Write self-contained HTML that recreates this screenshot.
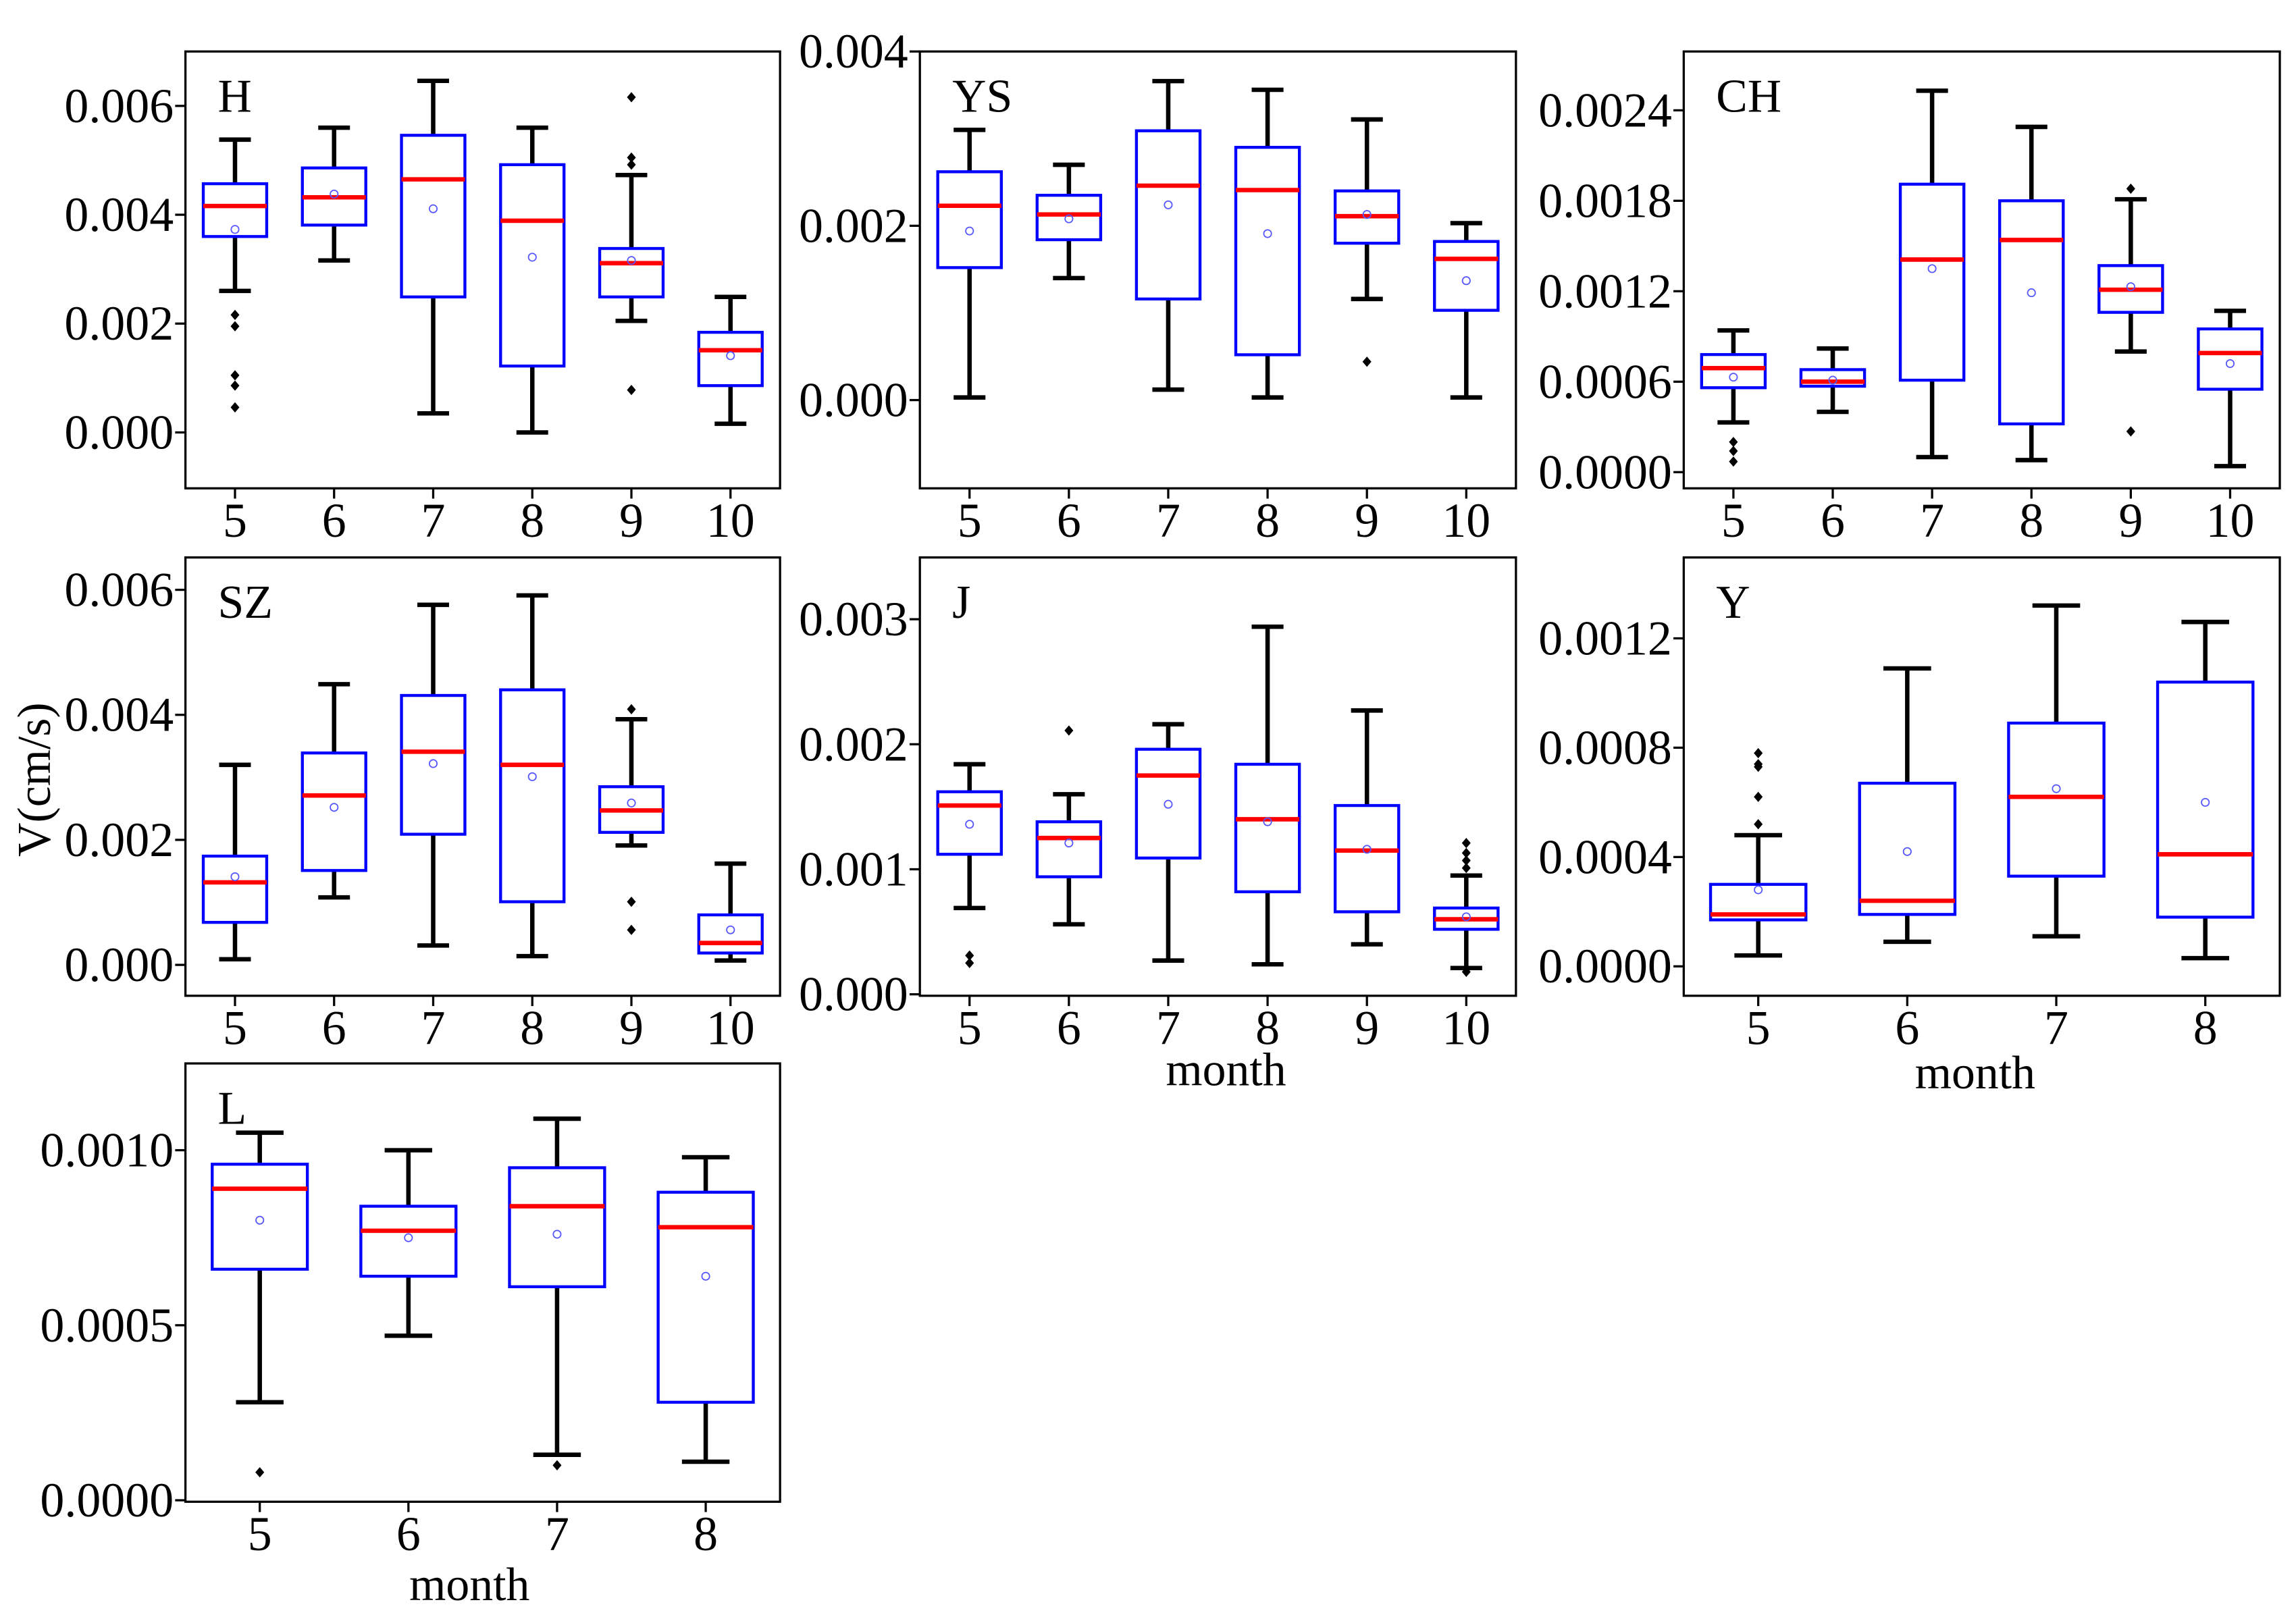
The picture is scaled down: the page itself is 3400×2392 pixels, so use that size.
<!DOCTYPE html>
<html><head><meta charset="utf-8"><style>
html,body{margin:0;padding:0;background:#fff}
svg{display:block}
text{font-family:"Liberation Serif",serif;fill:#000}
</style></head><body>
<svg id="fig" width="3400" height="2392" viewBox="0 0 1560 1098" preserveAspectRatio="none" xmlns="http://www.w3.org/2000/svg">
<rect width="1560" height="1098" fill="#fff"/>
<text x="0" y="0" font-size="32" text-anchor="middle" transform="translate(34,530) rotate(-90)">V(cm/s)</text>
<text x="833" y="738" font-size="32" text-anchor="middle">month</text>
<text x="1342" y="740" font-size="32" text-anchor="middle">month</text>
<text x="319" y="1088" font-size="32" text-anchor="middle">month</text>
</svg>
<script>
// values in units of 0.001 cm/s
const cats6 = ["5","6","7","8","9","10"];
const cats4 = ["5","6","7","8"];

const H_lo  = [2.6,3.16,0.35,0,2.05,0.16];
const H_q1  = [3.6,3.81,2.49,1.22,2.49,0.86];
const H_med = [4.16,4.32,4.65,3.89,3.11,1.51];
const H_q3  = [4.57,4.86,5.46,4.92,3.38,1.84];
const H_hi  = [5.38,5.6,6.46,5.6,4.73,2.49];
const H_mean= [3.73,4.38,4.11,3.22,3.16,1.41];
const H_out = [[2.16,1.95,1.05,0.86,0.46],[],[],[],[6.16,5.05,4.92,0.78],[]];

const YS_lo  = [0.03,1.4,0.12,0.03,1.16,0.03];
const YS_q1  = [1.52,1.84,1.16,0.52,1.8,1.03];
const YS_med = [2.23,2.13,2.46,2.41,2.11,1.62];
const YS_q3  = [2.62,2.35,3.09,2.9,2.4,1.82];
const YS_hi  = [3.1,2.7,3.66,3.56,3.22,2.03];
const YS_mean= [1.94,2.08,2.24,1.91,2.13,1.37];
const YS_out = [[],[],[],[],[0.44],[]];

const CH_lo  = [0.33,0.4,0.1,0.08,0.8,0.04];
const CH_q1  = [0.56,0.57,0.61,0.32,1.06,0.55];
const CH_med = [0.69,0.6,1.41,1.54,1.21,0.79];
const CH_q3  = [0.78,0.68,1.91,1.8,1.37,0.95];
const CH_hi  = [0.94,0.82,2.53,2.29,1.81,1.07];
const CH_mean= [0.63,0.61,1.35,1.19,1.23,0.72];
const CH_out = [[0.2,0.14,0.07],[],[],[],[1.88,0.27],[]];

const SZ_lo  = [0.09,1.08,0.31,0.14,1.91,0.07];
const SZ_q1  = [0.68,1.51,2.09,1.01,2.12,0.19];
const SZ_med = [1.32,2.71,3.41,3.2,2.47,0.35];
const SZ_q3  = [1.74,3.39,4.31,4.4,2.85,0.8];
const SZ_hi  = [3.2,4.49,5.76,5.91,3.93,1.62];
const SZ_mean= [1.41,2.52,3.22,3.01,2.59,0.56];
const SZ_out = [[],[],[],[],[4.09,1.01,0.56],[]];

const J_lo  = [0.69,0.56,0.27,0.24,0.4,0.21];
const J_q1  = [1.12,0.94,1.09,0.82,0.66,0.52];
const J_med = [1.51,1.25,1.75,1.4,1.15,0.6];
const J_q3  = [1.62,1.38,1.96,1.84,1.51,0.69];
const J_hi  = [1.84,1.6,2.16,2.94,2.27,0.95];
const J_mean= [1.36,1.21,1.52,1.38,1.16,0.62];
const J_out = [[0.31,0.25],[2.11],[],[],[],[1.21,1.13,1.07,1.01,0.18]];

const Y_lo  = [0.04,0.09,0.11,0.03];
const Y_q1  = [0.17,0.19,0.33,0.18];
const Y_med = [0.19,0.24,0.62,0.41];
const Y_q3  = [0.3,0.67,0.89,1.04];
const Y_hi  = [0.48,1.09,1.32,1.26];
const Y_mean= [0.28,0.42,0.65,0.6];
const Y_out = [[0.78,0.74,0.73,0.62,0.52],[],[],[]];

const L_lo  = [0.28,0.47,0.13,0.11];
const L_q1  = [0.66,0.64,0.61,0.28];
const L_med = [0.89,0.77,0.84,0.78];
const L_q3  = [0.96,0.84,0.95,0.88];
const L_hi  = [1.05,1.0,1.09,0.98];
const L_mean= [0.8,0.75,0.76,0.64];
const L_out = [[0.08],[],[0.1],[]];

const H_ticks=[0,2,4,6], YS_ticks=[0,2,4], CH_ticks=[0,0.6,1.2,1.8,2.4], SZ_ticks=[0,2,4,6], J_ticks=[0,1,2,3], Y_ticks=[0,0.4,0.8,1.2], L_ticks=[0,0.5,1.0];

const NS="http://www.w3.org/2000/svg";
const svg=document.getElementById("fig");
function mk(tag,attrs,parent){const e=document.createElementNS(NS,tag);for(const k in attrs)e.setAttribute(k,attrs[k]);(parent||svg).appendChild(e);return e;}

function panel(p){
  const g=mk("g",{});
  
  
  const yS=v=>p.r0y+(v-p.r0v)*(p.r1y-p.r0y)/(p.r1v-p.r0v);
  const n=p.cats.length, step=(p.x1-p.x0)/n;
  const xS=i=>p.x0+(i+0.5)*step;
  const bw=step*0.64, cw=bw*0.5;
  p.ticks.forEach(t=>{
    const y=yS(t);
    const tk=mk("line",{x1:p.x0-7,x2:p.x0,y1:y,y2:y,stroke:"#000","stroke-width":1.5},g);
    
    
    const tl=mk("text",{x:p.x0-8,y:y+11,"font-size":33,"text-anchor":"end"},g);
    tl.textContent=(t*0.001).toFixed(p.dec);
    
    
  });
  p.cats.forEach((c,i)=>{
    const x=xS(i);
    mk("line",{x1:x,x2:x,y1:p.y1,y2:p.y1+7,stroke:"#000","stroke-width":1.5},g);
    const tl=mk("text",{x:x,y:p.y1+33,"font-size":33,"text-anchor":"middle"},g);
    tl.textContent=c;
    
    
  });
  p.cats.forEach((c,i)=>{
    const x=xS(i);
    const bg=mk("g",{},g);
    
    
    const lo=yS(p.lo[i]),q1=yS(p.q1[i]),md=yS(p.med[i]),q3=yS(p.q3[i]),hi=yS(p.hi[i]);
    mk("line",{x1:x,x2:x,y1:q1,y2:lo,stroke:"#000","stroke-width":3},bg);
    mk("line",{x1:x,x2:x,y1:q3,y2:hi,stroke:"#000","stroke-width":3},bg);
    mk("line",{x1:x-cw/2,x2:x+cw/2,y1:lo,y2:lo,stroke:"#000","stroke-width":3},bg);
    mk("line",{x1:x-cw/2,x2:x+cw/2,y1:hi,y2:hi,stroke:"#000","stroke-width":3},bg);
    mk("rect",{x:x-bw/2,y:q3,width:bw,height:Math.max(0.5,q1-q3),fill:"none",stroke:"#0000ff","stroke-width":2},bg);
    mk("line",{x1:x-bw/2,x2:x+bw/2,y1:md,y2:md,stroke:"#ff0000","stroke-width":3},bg);
    mk("circle",{cx:x,cy:yS(p.mean[i]),r:2.6,fill:"none",stroke:"#5555ff","stroke-width":0.8},bg);
    p.out[i].forEach(v=>{
      const y=yS(v);
      const d=mk("polygon",{points:`${x},${y-3.5} ${x+3},${y} ${x},${y+3.5} ${x-3},${y}`,fill:"#000"},bg);
      
      
    });
  });
  const fr=mk("rect",{x:p.x0,y:p.y0,width:p.x1-p.x0,height:p.y1-p.y0,fill:"none",stroke:"#000","stroke-width":1.5},g);
  
  
  const lb=mk("text",{x:p.x0+22,y:p.y0+41,"font-size":32},g);
  lb.textContent=p.name;
  
  
}

panel({name:"H",x0:126,x1:530,y0:35,y1:332,r0v:0,r0y:294,r1v:6,r1y:72,cats:cats6,ticks:H_ticks,dec:3,lo:H_lo,q1:H_q1,med:H_med,q3:H_q3,hi:H_hi,mean:H_mean,out:H_out});
panel({name:"YS",x0:625,x1:1030,y0:35,y1:332,r0v:0,r0y:272,r1v:4,r1y:35,cats:cats6,ticks:YS_ticks,dec:3,lo:YS_lo,q1:YS_q1,med:YS_med,q3:YS_q3,hi:YS_hi,mean:YS_mean,out:YS_out});
panel({name:"CH",x0:1144,x1:1549,y0:35,y1:332,r0v:0,r0y:321,r1v:2.4,r1y:75,cats:cats6,ticks:CH_ticks,dec:4,lo:CH_lo,q1:CH_q1,med:CH_med,q3:CH_q3,hi:CH_hi,mean:CH_mean,out:CH_out});
panel({name:"SZ",x0:126,x1:530,y0:379,y1:677,r0v:0,r0y:656,r1v:6,r1y:401,cats:cats6,ticks:SZ_ticks,dec:3,lo:SZ_lo,q1:SZ_q1,med:SZ_med,q3:SZ_q3,hi:SZ_hi,mean:SZ_mean,out:SZ_out});
panel({name:"J",x0:625,x1:1030,y0:379,y1:677,r0v:0,r0y:676,r1v:3,r1y:421,cats:cats6,ticks:J_ticks,dec:3,lo:J_lo,q1:J_q1,med:J_med,q3:J_q3,hi:J_hi,mean:J_mean,out:J_out});
panel({name:"Y",x0:1144,x1:1549,y0:379,y1:677,r0v:0,r0y:657,r1v:1.2,r1y:434,cats:cats4,ticks:Y_ticks,dec:4,lo:Y_lo,q1:Y_q1,med:Y_med,q3:Y_q3,hi:Y_hi,mean:Y_mean,out:Y_out});
panel({name:"L",x0:126,x1:530,y0:723,y1:1021,r0v:0,r0y:1020,r1v:1.0,r1y:782,cats:cats4,ticks:L_ticks,dec:4,lo:L_lo,q1:L_q1,med:L_med,q3:L_q3,hi:L_hi,mean:L_mean,out:L_out});
</script>
</body></html>
